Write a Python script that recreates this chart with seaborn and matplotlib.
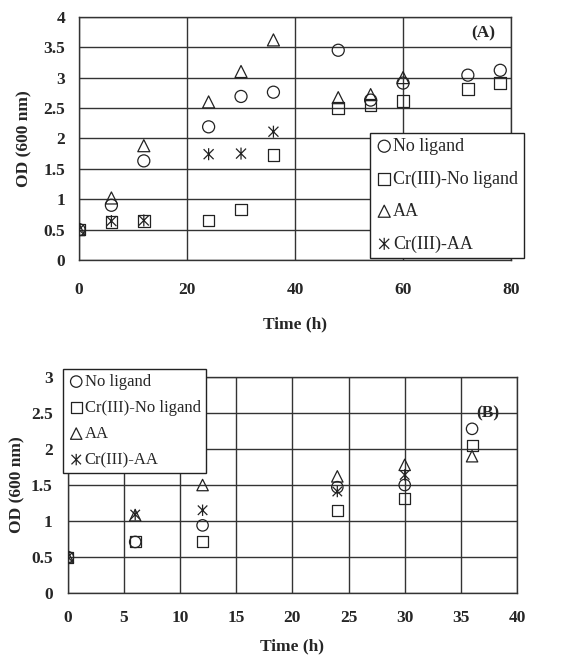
import numpy as np
import pandas as pd
import matplotlib
matplotlib.use("Agg")
import matplotlib.pyplot as plt
import seaborn as sns
from matplotlib.path import Path

# ---- data ----
series = ["No ligand", "Cr(III)-No ligand", "AA", "Cr(III)-AA"]

time_a = [0, 6, 12, 24, 30, 36, 48, 54, 60, 72, 78]
noligand_a = [0.5, 0.90, 1.63, 2.19, 2.69, 2.76, 3.45, 2.63, 2.91, 3.04, 3.12]
cr_noligand_a = [0.5, 0.62, 0.64, 0.65, 0.83, 1.73, 2.50, 2.55, 2.62, 2.81, 2.91]
aa_a = [0.5, 1.02, 1.88, 2.60, 3.10, 3.62, 2.67, 2.72, 3.00, np.nan, np.nan]
cr_aa_a = [0.5, 0.64, 0.65, 1.74, 1.75, 2.11, np.nan, np.nan, np.nan, np.nan, np.nan]

time_b = [0, 6, 12, 24, 30, 36]
noligand_b = [0.5, 0.71, 0.94, 1.47, 1.50, 2.28]
cr_noligand_b = [0.5, 0.71, 0.71, 1.15, 1.31, 2.05]
aa_b = [0.5, 1.08, 1.50, 1.62, 1.78, 1.90]
cr_aa_b = [0.5, 1.09, 1.15, 1.41, 1.64, np.nan]

xticks_a = [0, 20, 40, 60, 80]
yticks_a = [0, 0.5, 1, 1.5, 2, 2.5, 3, 3.5, 4]
xticks_b = [0, 5, 10, 15, 20, 25, 30, 35, 40]
yticks_b = [0, 0.5, 1, 1.5, 2, 2.5, 3]

# excel-like star marker: X with a vertical bar
star = Path([(-1, -1), (1, 1), (-1, 1), (1, -1), (0, -1.2), (0, 1.2)],
            [Path.MOVETO, Path.LINETO, Path.MOVETO, Path.LINETO, Path.MOVETO, Path.LINETO])
markers = {"No ligand": "o", "Cr(III)-No ligand": "s", "AA": "^", "Cr(III)-AA": star}
sizes = {"No ligand": 75, "Cr(III)-No ligand": 70, "AA": 75, "Cr(III)-AA": 75}


def long_df(t, cols):
    frames = []
    for name, vals in zip(series, cols):
        frames.append(pd.DataFrame({"time": t, "od": vals, "series": name}))
    return pd.concat(frames).dropna()


df_a = long_df(time_a, [noligand_a, cr_noligand_a, aa_a, cr_aa_a])
df_b = long_df(time_b, [noligand_b, cr_noligand_b, aa_b, cr_aa_b])

sns.set_style("white")
plt.rcParams["font.family"] = ["Liberation Serif", "DejaVu Serif"]

fig = plt.figure(figsize=(5.7, 6.59), dpi=100)
ax_a = fig.add_axes([0.1386, 0.6055, 0.758, 0.369])
ax_b = fig.add_axes([0.119, 0.100, 0.788, 0.328])


def draw(ax, df, xlim, ylim, xt, yt, tag, tag_xy, fs_leg, leg_kw, xpad, ypad, lpad, ylpad, ms_scale):
    for name in series:
        sub = df[df["series"] == name]
        sns.scatterplot(data=sub, x="time", y="od", ax=ax, marker=markers[name],
                        s=sizes[name] * ms_scale, color="black", facecolor="none",
                        edgecolor="#222222", linewidth=0.9, label=name, zorder=3)
    ax.set_xlim(*xlim)
    ax.set_ylim(*ylim)
    ax.set_xticks(xt)
    ax.set_yticks(yt)
    ax.set_xticklabels([f"{v:g}" for v in xt], fontweight="bold", fontsize=12.5)
    ax.set_yticklabels([f"{v:g}" for v in yt], fontweight="bold", fontsize=12.5)
    ax.tick_params(axis="both", length=0)
    ax.tick_params(axis="x", pad=xpad)
    ax.tick_params(axis="y", pad=ypad)
    ax.grid(True, color="#333333", linewidth=1.0)
    for sp in ax.spines.values():
        sp.set_visible(True)
        sp.set_color("#333333")
        sp.set_linewidth(1.0)
    ax.set_xlabel("Time (h)", fontweight="bold", fontsize=12.5, labelpad=lpad)
    ax.set_ylabel("OD (600 nm)", fontweight="bold", fontsize=12.5, labelpad=ylpad)
    ax.text(tag_xy[0], tag_xy[1], tag, transform=ax.transAxes, fontweight="bold",
            fontsize=12.5, ha="center", va="center")
    leg = ax.legend(prop={"size": fs_leg}, frameon=True, fancybox=False, framealpha=1,
                    edgecolor="#222222", handletextpad=0.0, handlelength=1.0,
                    borderaxespad=0, borderpad=0.3, **leg_kw)
    leg.get_frame().set_linewidth(1.0)
    leg.set_zorder(5)


draw(ax_a, df_a, (0, 80), (0, 4), xticks_a, yticks_a, "(A)", (0.935, 0.93), 13,
     dict(loc="lower left", bbox_to_anchor=(0.673, 0.008), labelspacing=0.85),
     xpad=16, ypad=10, lpad=13, ylpad=8, ms_scale=1.0)
draw(ax_b, df_b, (0, 40), (0, 3), xticks_b, yticks_b, "(B)", (0.935, 0.83), 12,
     dict(loc="upper left", bbox_to_anchor=(-0.011, 1.037), labelspacing=0.6),
     xpad=12, ypad=11, lpad=9, ylpad=4, ms_scale=0.9)

fig.savefig("out.png", dpi=100)
